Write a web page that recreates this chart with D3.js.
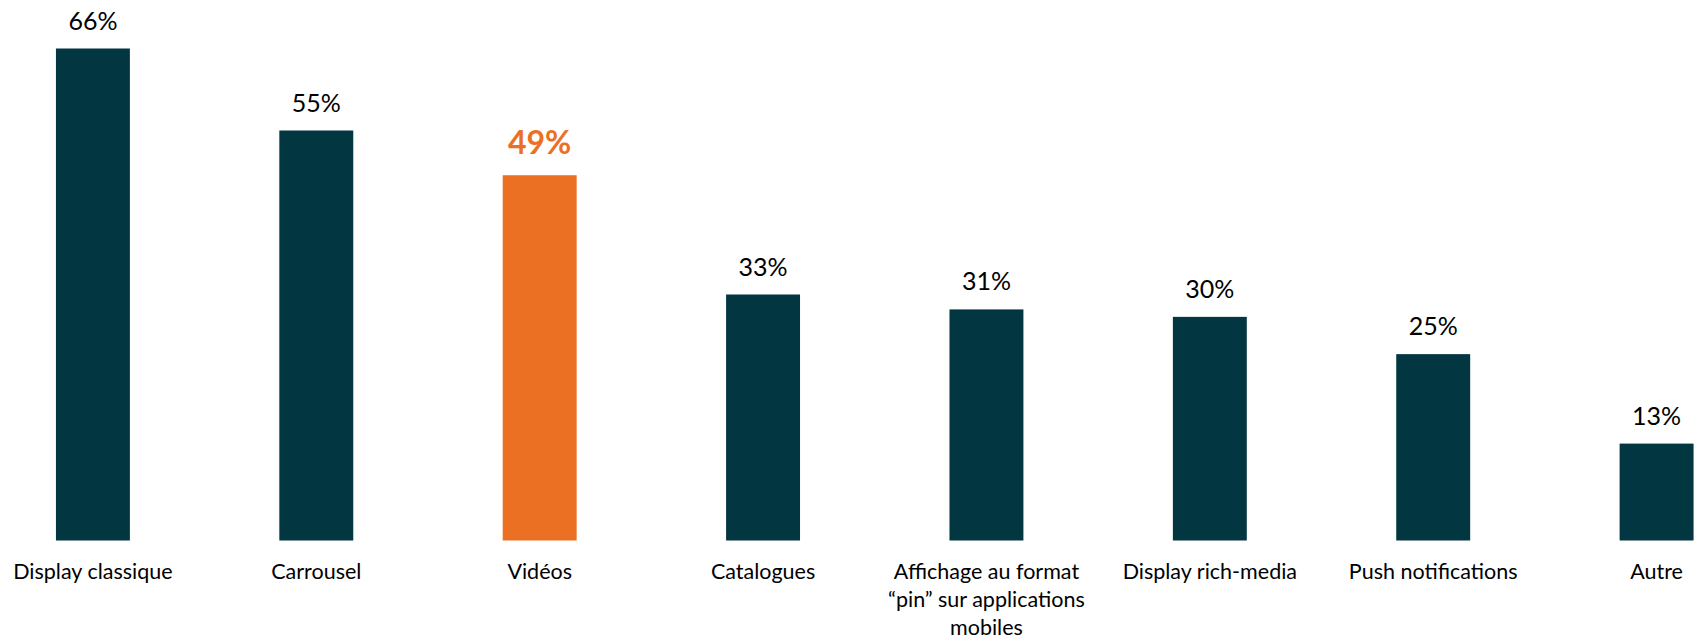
<!DOCTYPE html>
<html>
<head>
<meta charset="utf-8">
<script src="https://cdn.jsdelivr.net/npm/d3@7"></script>
<style>
  html, body { margin: 0; padding: 0; background: #ffffff; }
  svg { display: block; }
</style>
</head>
<body>
<svg id="chart" width="1694" height="640"></svg>
<script>
// Formats publicitaires utilisés (%)
const categories = [
  "Display classique",
  "Carrousel",
  "Vidéos",
  "Catalogues",
  "Affichage au format\n“pin” sur applications\nmobiles",
  "Display rich-media",
  "Push notifications",
  "Autre"
];
const values = [66, 55, 49, 33, 31, 30, 25, 13];
const highlighted = ["Vidéos"];

const width = 1694, height = 640;
const baseColor = "#023741";
const accentColor = "#EC7024";
const fontFamily = "Lato, 'Open Sans', sans-serif";

const svg = d3.select("#chart");

const x = d3.scaleBand()
  .domain(categories)
  .range([-93.5, 1843])
  .padding(0.669);

const y = d3.scaleLinear()
  .domain([0, 66])
  .range([540.5, 48.5]);

const data = categories.map((c, i) => ({ cat: c, value: values[i], hi: highlighted.includes(c) }));

// bars
svg.append("g")
  .selectAll("rect")
  .data(data)
  .join("rect")
  .attr("x", d => x(d.cat))
  .attr("y", d => y(d.value))
  .attr("width", x.bandwidth())
  .attr("height", d => y(0) - y(d.value))
  .attr("fill", d => d.hi ? accentColor : baseColor);

// value labels
svg.append("g")
  .selectAll("text")
  .data(data)
  .join("text")
  .attr("x", d => x(d.cat) + x.bandwidth() / 2)
  .attr("y", d => y(d.value) - (d.hi ? 21 : 19))
  .attr("text-anchor", "middle")
  .attr("font-family", fontFamily)
  .attr("font-size", d => d.hi ? 32 : 25)
  .attr("font-weight", d => d.hi ? 700 : 400)
  .attr("fill", d => d.hi ? accentColor : "#000000")
  .text(d => d.value + "%");

// category axis labels
const xAxis = d3.axisBottom(x).tickSize(0).tickPadding(0).tickFormat("");
const axisG = svg.append("g")
  .attr("transform", `translate(0,${y(0)})`)
  .call(xAxis);
axisG.select(".domain").remove();

axisG.selectAll(".tick")
  .append("text")
  .attr("text-anchor", "middle")
  .attr("font-family", fontFamily)
  .attr("font-size", 21.5)
  .attr("fill", "#000000")
  .each(function(d) {
    const lines = d.split("\n");
    const t = d3.select(this);
    lines.forEach((ln, i) => {
      t.append("tspan")
        .attr("x", 0)
        .attr("y", 38.5 + i * 28.2)
        .text(ln);
    });
  });
</script>
</body>
</html>
